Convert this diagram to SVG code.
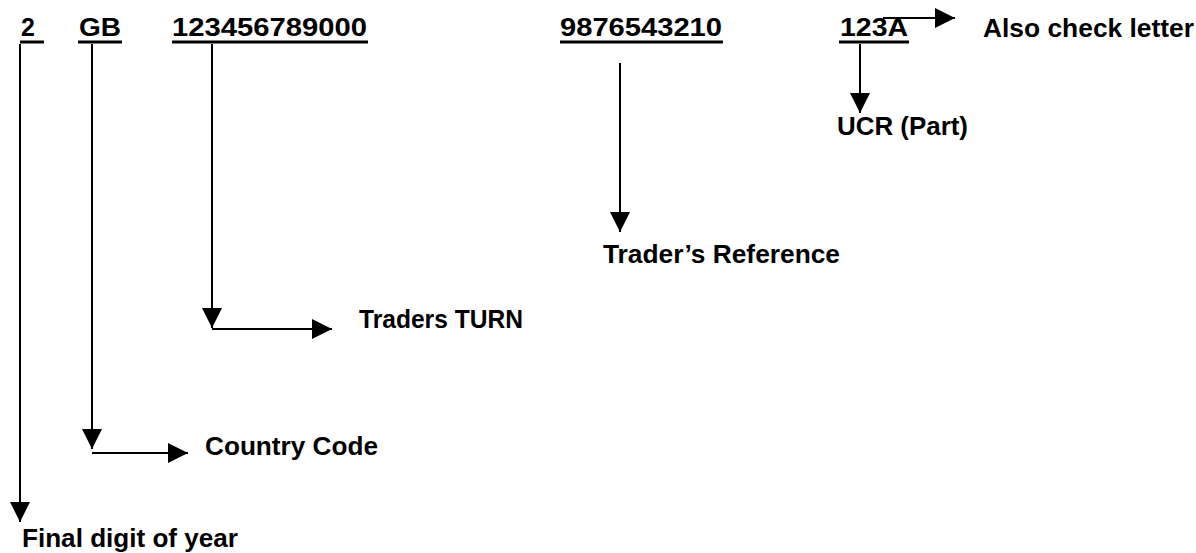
<svg xmlns="http://www.w3.org/2000/svg" width="1196" height="553" viewBox="0 0 1196 553">
<style>
text{font-family:"Liberation Sans",Arial,sans-serif;font-weight:bold;font-size:25px;fill:#000}
.ul{fill:#000}
.c{stroke:#000;stroke-width:2;fill:none;marker-end:url(#ah)}
</style>
<defs>
<marker id="ah" markerUnits="userSpaceOnUse" markerWidth="20" markerHeight="20" refX="20" refY="10" orient="auto" viewBox="0 0 20 20">
<path d="M0,0 L20,10 L0,20 Z" fill="#000"/>
</marker>
</defs>
<rect width="1196" height="553" fill="#fff"/>
<g id="code-year">
<text x="21" y="36">2</text>
<rect class="ul" x="20" y="40.5" width="24" height="3"/>
</g>
<g id="code-country">
<text x="79" y="36" textLength="42" lengthAdjust="spacingAndGlyphs">GB</text>
<rect class="ul" x="78" y="40.5" width="44" height="3"/>
</g>
<g id="code-turn">
<text x="172" y="36" textLength="195" lengthAdjust="spacingAndGlyphs">123456789000</text>
<rect class="ul" x="172" y="40.5" width="196" height="3"/>
</g>
<g id="code-ref">
<text x="560" y="36" textLength="162" lengthAdjust="spacingAndGlyphs">9876543210</text>
<rect class="ul" x="560" y="40.5" width="163" height="3"/>
</g>
<g id="code-ucr">
<text x="840" y="36" textLength="68" lengthAdjust="spacingAndGlyphs">123A</text>
<rect class="ul" x="839" y="40.5" width="70" height="3"/>
</g>
<g id="label-check">
<text x="983" y="37" textLength="211" lengthAdjust="spacingAndGlyphs">Also check letter</text>
</g>
<g id="label-ucr">
<text x="837" y="135" textLength="131" lengthAdjust="spacingAndGlyphs">UCR (Part)</text>
</g>
<g id="label-ref">
<text x="603" y="263" textLength="237" lengthAdjust="spacingAndGlyphs">Trader’s Reference</text>
</g>
<g id="label-turn">
<text x="359" y="328" textLength="164" lengthAdjust="spacingAndGlyphs">Traders TURN</text>
</g>
<g id="label-country">
<text x="205" y="455" textLength="173" lengthAdjust="spacingAndGlyphs">Country Code</text>
</g>
<g id="label-year">
<text x="22" y="547" textLength="216" lengthAdjust="spacingAndGlyphs">Final digit of year</text>
</g>
<g id="connectors">
<path class="c" d="M883,18 H955"/>
<path class="c" d="M860,44 V113"/>
<path class="c" d="M620,63 V232"/>
<path class="c" d="M212,44 V328"/>
<path class="c" d="M212,329 H332"/>
<path class="c" d="M92,44 V449"/>
<path class="c" d="M92,453 H188"/>
<path class="c" d="M20,44 V522"/>
</g>
</svg>
